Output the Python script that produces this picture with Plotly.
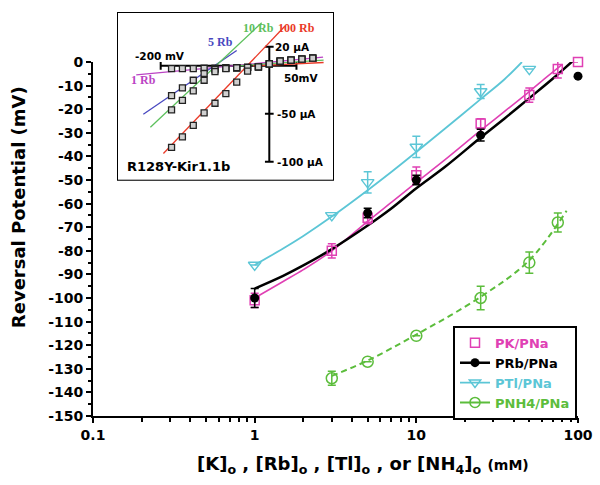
import plotly.graph_objects as go

# ---------------- main chart data ----------------
conc_pk = [1, 3, 5, 10, 25, 50, 75, 100]
pk_vals = [-101, -80, -66, -48, -26, -14, -3, 0]
pk_err = [3, 3, 2.5, 3.5, 2, 3, 3.8, None]

conc_rb = [1, 5, 10, 25, 100]
rb_vals = [-100, -64, -50, -31, -6]
rb_err = [4, 2, 2, 2.5, None]

conc_tl = [1, 3, 5, 10, 25, 50]
tl_vals = [-86, -65, -51, -36, -12.5, -3]
tl_err = [None, None, 4.5, 4.5, 3, None]

conc_nh4 = [3, 5, 10, 25, 50, 75]
nh4_vals = [-134, -127, -116, -100, -85, -68]
nh4_err = [3, None, None, 5, 4.5, 4]

# fitted curves
fit_pk_x = [1, 1.5, 2, 3, 5, 7, 10, 15, 25, 35, 50, 65, 80]
fit_pk_y = [-100, -93, -88, -80, -67.5, -59.5, -51, -41.5, -29, -21, -12.5, -6, -1]
fit_rb_x = [1, 1.5, 2, 3, 5, 7, 10, 15, 25, 35, 50, 70, 93]
fit_rb_y = [-96, -90.6, -86.2, -79.3, -69.3, -62.1, -53.5, -44.5, -32, -24, -15.3, -7, 0.5]
fit_tl_x = [1, 1.5, 2, 3, 5, 7, 10, 15, 25, 35, 45]
fit_tl_y = [-86, -79, -73.7, -65.5, -54.3, -46.6, -38.1, -28.3, -15.7, -7.4, 0]
fit_nh4_x = [3, 5, 10, 25, 50, 85]
fit_nh4_y = [-133, -126.5, -115.5, -99.5, -84, -63]

x_tick_vals = [0.1, 1, 10, 100]
x_tick_text = ["0.1", "1", "10", "100"]
y_tick_vals = list(range(-150, 1, 10))
y_tick_text = [str(v) for v in y_tick_vals]
minor_mult = [2, 3, 4, 5, 6, 7, 8, 9]
decades = [0.1, 1, 10]

# ---------------- inset data ----------------
inset_v = [-180, -160, -140, -120, -100, -80, -60, -40, -20, 0, 20, 40, 60, 80]
i_1rb = [-3, -3, -3, -2.5, -2.5, -2, -2, -1.5, -1, 2, 5, 6, 7, 8]
i_5rb = [-31, -23, -15, -8, -4, -2.5, -2, -1.5, -1, 2, 5, 6, 7, 8]
i_10rb = [-46, -36, -26, -15, -6, -3, -2, -1.5, -1, 2, 5, 6, 7, 8]
i_100rb = [-85, -74, -62, -49, -39, -29, -17, -5.5, -1, 2, 5, 6, 7, 8]

fit_1rb_v, fit_1rb_i = [-245, 99], [-9.5, 9]
fit_5rb_v, fit_5rb_i = [-232, -60], [-50.5, 16]
fit_10rb_v, fit_10rb_i = [-219, -14], [-64, 45]
fit_100rb_v, fit_100rb_i = [-195, 29], [-91.4, 41.5]
out_10rb_v, out_10rb_i = [-60, 100], [0, 6]
out_100rb_v, out_100rb_i = [-30, 100], [0, 3.5]

inset_v_ticks = [-200, 50]
inset_i_ticks = [20, -50, -100]

PK = "#e040b4"
RB = "#000000"
TL = "#5cc6d6"
NH = "#5cbd3c"
C1 = "#bb44c4"
C5 = "#4848c0"
C10 = "#5cc05c"
C100 = "#ea3a28"

FONT = "DejaVu Sans"

fig = go.Figure()

# fit lines
fig.add_trace(go.Scatter(x=fit_nh4_x, y=fit_nh4_y, mode="lines", showlegend=False, hoverinfo="skip",
                         line=dict(color=NH, width=2, dash="6px,4px", shape="spline")))
fig.add_trace(go.Scatter(x=fit_tl_x, y=fit_tl_y, mode="lines", showlegend=False, hoverinfo="skip",
                         line=dict(color=TL, width=1.8, shape="spline")))
fig.add_trace(go.Scatter(x=fit_pk_x, y=fit_pk_y, mode="lines", showlegend=False, hoverinfo="skip",
                         line=dict(color=PK, width=1.6, shape="spline")))
fig.add_trace(go.Scatter(x=fit_rb_x, y=fit_rb_y, mode="lines", showlegend=False, hoverinfo="skip",
                         line=dict(color=RB, width=2.5, shape="spline")))

def err(arr, color):
    return dict(type="data", array=arr, visible=True, color=color, thickness=1.5, width=4)

fig.add_trace(go.Scatter(x=conc_pk, y=pk_vals, mode="markers", showlegend=False, cliponaxis=False,
                         error_y=err(pk_err, PK),
                         marker=dict(symbol="square-open", size=9, color=PK, line=dict(width=1.5, color=PK))))
fig.add_trace(go.Scatter(x=conc_rb, y=rb_vals, mode="markers", showlegend=False, cliponaxis=False,
                         error_y=err(rb_err, RB),
                         marker=dict(symbol="circle", size=9, color=RB)))
fig.add_trace(go.Scatter(x=conc_tl, y=tl_vals, mode="markers", showlegend=False, cliponaxis=False,
                         error_y=err(tl_err, TL),
                         marker=dict(symbol="triangle-down-open", size=11, color=TL, line=dict(width=1.4, color=TL))))
fig.add_trace(go.Scatter(x=conc_nh4, y=nh4_vals, mode="markers", showlegend=False, cliponaxis=False,
                         error_y=err(nh4_err, NH),
                         marker=dict(symbol="circle-open", size=11, color=NH, line=dict(width=1.5, color=NH))))

# legend entries
fig.add_trace(go.Scatter(x=[None], y=[None], mode="markers",
                         name=f"<span style='color:{PK}'>PK/PNa</span>",
                         marker=dict(symbol="square-open", size=9, color=PK, line=dict(width=1.5, color=PK))))
fig.add_trace(go.Scatter(x=[None], y=[None], mode="lines+markers",
                         name=f"<span style='color:{RB}'>PRb/PNa</span>",
                         line=dict(color=RB, width=2.5), marker=dict(symbol="circle", size=9, color=RB)))
fig.add_trace(go.Scatter(x=[None], y=[None], mode="lines+markers",
                         name=f"<span style='color:{TL}'>PTl/PNa</span>",
                         line=dict(color=TL, width=1.8),
                         marker=dict(symbol="triangle-down-open", size=10, color=TL, line=dict(width=1.4, color=TL))))
fig.add_trace(go.Scatter(x=[None], y=[None], mode="lines+markers",
                         name=f"<span style='color:{NH}'>PNH4/PNa</span>",
                         line=dict(color=NH, width=2),
                         marker=dict(symbol="circle-open", size=10, color=NH, line=dict(width=1.5, color=NH))))

# ---------------- inset traces ----------------
for v, i, c in [(fit_1rb_v, fit_1rb_i, C1), (fit_5rb_v, fit_5rb_i, C5), (fit_10rb_v, fit_10rb_i, C10),
                (fit_100rb_v, fit_100rb_i, C100), (out_10rb_v, out_10rb_i, C10), (out_100rb_v, out_100rb_i, C100)]:
    fig.add_trace(go.Scatter(x=v, y=i, xaxis="x2", yaxis="y2", mode="lines", showlegend=False,
                             hoverinfo="skip", line=dict(color=c, width=1.3)))
for series in [i_1rb, i_5rb, i_10rb, i_100rb]:
    fig.add_trace(go.Scatter(x=inset_v, y=series, xaxis="x2", yaxis="y2", mode="markers", showlegend=False,
                             hoverinfo="skip",
                             marker=dict(symbol="square", size=6, color="#d0d0d0", line=dict(width=1.3, color="#222222"))))

# ---------------- layout ----------------
L, R, T, B = 93, 22, 5, 69
W, H = 600, 485
plot_h = H - T - B
main_top = (416 - 55) / plot_h

shapes = [dict(type="rect", xref="x2 domain", yref="y2 domain", x0=0, x1=1, y0=0, y1=1,
               line=dict(color="black", width=2), fillcolor="white", layer="below")]
shapes.append(dict(type="line", xref="x2", yref="y2", x0=inset_v_ticks[0], x1=inset_v_ticks[-1], y0=0, y1=0,
                   line=dict(color="black", width=2), layer="below"))
for v in inset_v_ticks:
    shapes.append(dict(type="line", xref="x2", yref="y2", x0=v, x1=v, y0=-4, y1=4,
                       line=dict(color="black", width=2), layer="below"))
shapes.append(dict(type="line", xref="x2", yref="y2", x0=0, x1=0, y0=max(inset_i_ticks), y1=min(inset_i_ticks),
                   line=dict(color="black", width=2), layer="below"))
for i in inset_i_ticks:
    shapes.append(dict(type="line", xref="x2", yref="y2", x0=-8, x1=8, y0=i, y1=i,
                       line=dict(color="black", width=2), layer="below"))

ann = []
def tx(text, x, y, size, color="black", family=FONT, xanchor="center", xref="x2", yref="y2", angle=0):
    ann.append(dict(text=text, x=x, y=y, xref=xref, yref=yref, showarrow=False, xanchor=xanchor,
                    yanchor="middle", textangle=angle,
                    font=dict(family=family, size=size, color=color, weight="bold")))

SERIF = "Liberation Serif"
tx("10 Rb", -20, 39.8, 12, C10, SERIF)
tx("100 Rb", 50, 39.8, 12, C100, SERIF)
tx("5 Rb", -89, 24.4, 12, C5, SERIF)
tx("1 Rb", -231, -14.4, 12, C1, SERIF)
tx("-200 mV", -201, 10.1, 10.5)
tx("50mV", 60, -12.4, 10.5)
tx("20 µA", 7, 20, 10.5, xanchor="left")
tx("-50 µA", 10, -50, 10.5, xanchor="left")
tx("-100 µA", 10, -100, 10.5, xanchor="left")
tx("R128Y-Kir1.1b", -265, -105.4, 13, xanchor="left")

tx("Reversal Potential (mV)", (18 - L) / (W - L - R), (416 - 203) / plot_h, 18,
   xref="paper", yref="paper", angle=-90)
tx("[K]<sub>o</sub> , [Rb]<sub>o</sub> , [Tl]<sub>o</sub> , or [NH<sub>4</sub>]<sub>o</sub> "
   "<span style='font-size:14px'>(mM)</span>",
   (362.5 - L) / (W - L - R), (416 - 466) / plot_h, 18, xref="paper", yref="paper")

minor_vals = [d * m for d in decades for m in minor_mult]

fig.update_layout(
    width=W, height=H,
    margin=dict(l=L, r=R, t=T, b=B),
    paper_bgcolor="white", plot_bgcolor="white",
    showlegend=True,
    legend=dict(x=(453 - L) / (W - L - R), y=(416 - 324) / plot_h, xanchor="left", yanchor="top",
                bordercolor="black", borderwidth=2, bgcolor="white", itemwidth=30,
                tracegroupgap=0, font=dict(family=FONT, size=13, weight="bold")),
    xaxis=dict(type="log", range=[-1, 2], domain=[0, 1], anchor="y",
               showgrid=False, zeroline=False, showline=True, linecolor="black", linewidth=2,
               ticks="outside", ticklen=5, tickwidth=1.5, tickcolor="black",
               tickvals=x_tick_vals, ticktext=x_tick_text,
               tickfont=dict(family=FONT, size=14, color="black", weight="bold"),
               minor=dict(ticks="outside", ticklen=4, tickwidth=1.5, tickcolor="black", tickvals=minor_vals)),
    yaxis=dict(range=[-150, 0], domain=[0, main_top], anchor="x",
               showgrid=False, zeroline=False, showline=True, linecolor="black", linewidth=2,
               ticks="outside", ticklen=5, tickwidth=1.5, tickcolor="black",
               tickvals=y_tick_vals, ticktext=y_tick_text,
               tickfont=dict(family=FONT, size=14, color="black", weight="bold"),
               minor=dict(ticks="outside", ticklen=3.5, tickwidth=1.5, tickcolor="black", dtick=5, tick0=0)),
    xaxis2=dict(domain=[(118 - L) / (W - L - R), (333 - L) / (W - L - R)], range=[-278.6, 117.3],
                anchor="y2", visible=False),
    yaxis2=dict(domain=[(416 - 175) / plot_h, 1.0], range=[-118.7, 55.1], anchor="x2", visible=False),
    shapes=shapes,
    annotations=ann,
)

fig.write_html("out.html", config={"displayModeBar": False},
               post_script="document.body.style.margin='0px';")
